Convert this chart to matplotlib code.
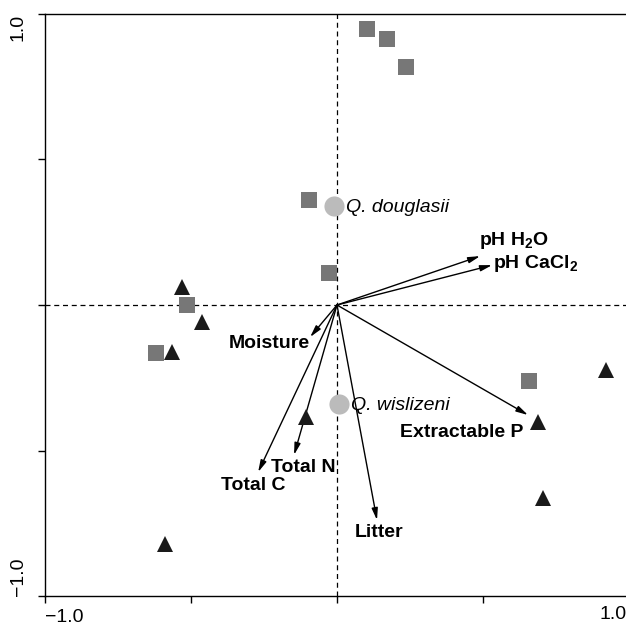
import matplotlib.pyplot as plt

plt.rcParams['font.family'] = ['Liberation Sans', 'DejaVu Sans']
plt.rcParams['mathtext.fontset'] = 'custom'
plt.rcParams['mathtext.rm'] = 'Liberation Sans'
plt.rcParams['mathtext.bf'] = 'Liberation Sans:bold'
plt.rcParams['mathtext.it'] = 'Liberation Sans:italic'

# site scores
sq_x = [0.103, 0.171, 0.236, -0.096, -0.027, -0.514, -0.620, 0.658]
sq_y = [0.948, 0.914, 0.818, 0.361, 0.110, 0.000, -0.165, -0.261]
tri_x = [-0.531, -0.462, -0.565, -0.106, 0.688, 0.921, 0.705, -0.589]
tri_y = [0.062, -0.058, -0.162, -0.385, -0.402, -0.223, -0.663, -0.821]

# species
sp_names = ['Q. douglasii', 'Q. wislizeni']
sp_x = [-0.010, 0.007]
sp_y = [0.340, -0.340]

# environmental vectors
env_names = [r'pH H$_\mathbf{2}$O', r'pH CaCl$_\mathbf{2}$', 'Moisture', 'Total C',
             'Total N', 'Litter', 'Extractable P']
env_x = [0.490, 0.531, -0.092, -0.270, -0.147, 0.137, 0.654]
env_y = [0.168, 0.137, -0.110, -0.574, -0.515, -0.739, -0.378]
# label anchor (data units) and alignment
lab_x = [0.485, 0.535, -0.092, -0.175, -0.005, 0.060, 0.637]
lab_y = [0.222, 0.142, -0.131, -0.621, -0.558, -0.783, -0.437]
lab_ha = ['left', 'left', 'right', 'right', 'right', 'left', 'right']

ticks = [-1, -0.5, 0, 0.5, 1]
tick_labels = ['\u22121.0', '', '', '', '1.0']

fig = plt.figure(figsize=(6.26, 6.27), dpi=100)
ax = fig.add_axes([0.0719, 0.0494, 0.9329, 0.9283])
ax.set_xlim(-1, 1)
ax.set_ylim(-1, 1)

ax.axhline(0, color='black', ls=(0, (4, 3)), lw=0.9, zorder=1)
ax.axvline(0, color='black', ls=(0, (4, 3)), lw=0.9, zorder=1)

ax.plot(sq_x, sq_y, 's', color='#777777', ms=11.5, mew=0, zorder=3)
ax.plot(tri_x, tri_y, '^', color='#1a1a1a', ms=12, mew=0, zorder=3)
ax.plot(sp_x, sp_y, 'o', color='#bbbbbb', ms=14.5, mew=0, zorder=3)
for n, x, y in zip(sp_names, sp_x, sp_y):
    ax.text(x + 0.04, y - 0.005, n, style='italic', fontsize=14, va='center', ha='left', zorder=4)

for i in range(len(env_names)):
    ax.annotate('', xy=(env_x[i], env_y[i]), xytext=(0, 0),
                arrowprops=dict(arrowstyle='-|>,head_length=0.7,head_width=0.18',
                                color='black', lw=1.0, shrinkA=0, shrinkB=0), zorder=2)
    ax.text(lab_x[i], lab_y[i], env_names[i], fontsize=14, fontweight='bold',
            ha=lab_ha[i], va='center', zorder=4)

ax.spines['right'].set_visible(False)
for s in ['left', 'bottom', 'top']:
    ax.spines[s].set_linewidth(1.0)

ax.set_xticks(ticks)
ax.set_yticks(ticks)
ax.set_xticklabels(tick_labels[:-1] + [''])
ax.set_yticklabels(tick_labels, rotation=90, va='center')
ax.tick_params(axis='both', labelsize=14, length=5, width=1.0, direction='out')
ax.tick_params(axis='x', pad=4)
ax.tick_params(axis='y', pad=8)
ax.get_xticklabels()[0].set_ha('left')
yl = ax.get_yticklabels()
yl[0].set_va('bottom')
yl[-1].set_va('top')
# right-most x label, pulled inside the figure edge
ax.annotate(tick_labels[-1], xy=(ticks[-1], 0), xycoords=('data', 'axes fraction'),
            xytext=(-2, -7.5), textcoords='offset points', ha='right', va='top',
            fontsize=14, annotation_clip=False)

fig.savefig('out.png', dpi=100)
